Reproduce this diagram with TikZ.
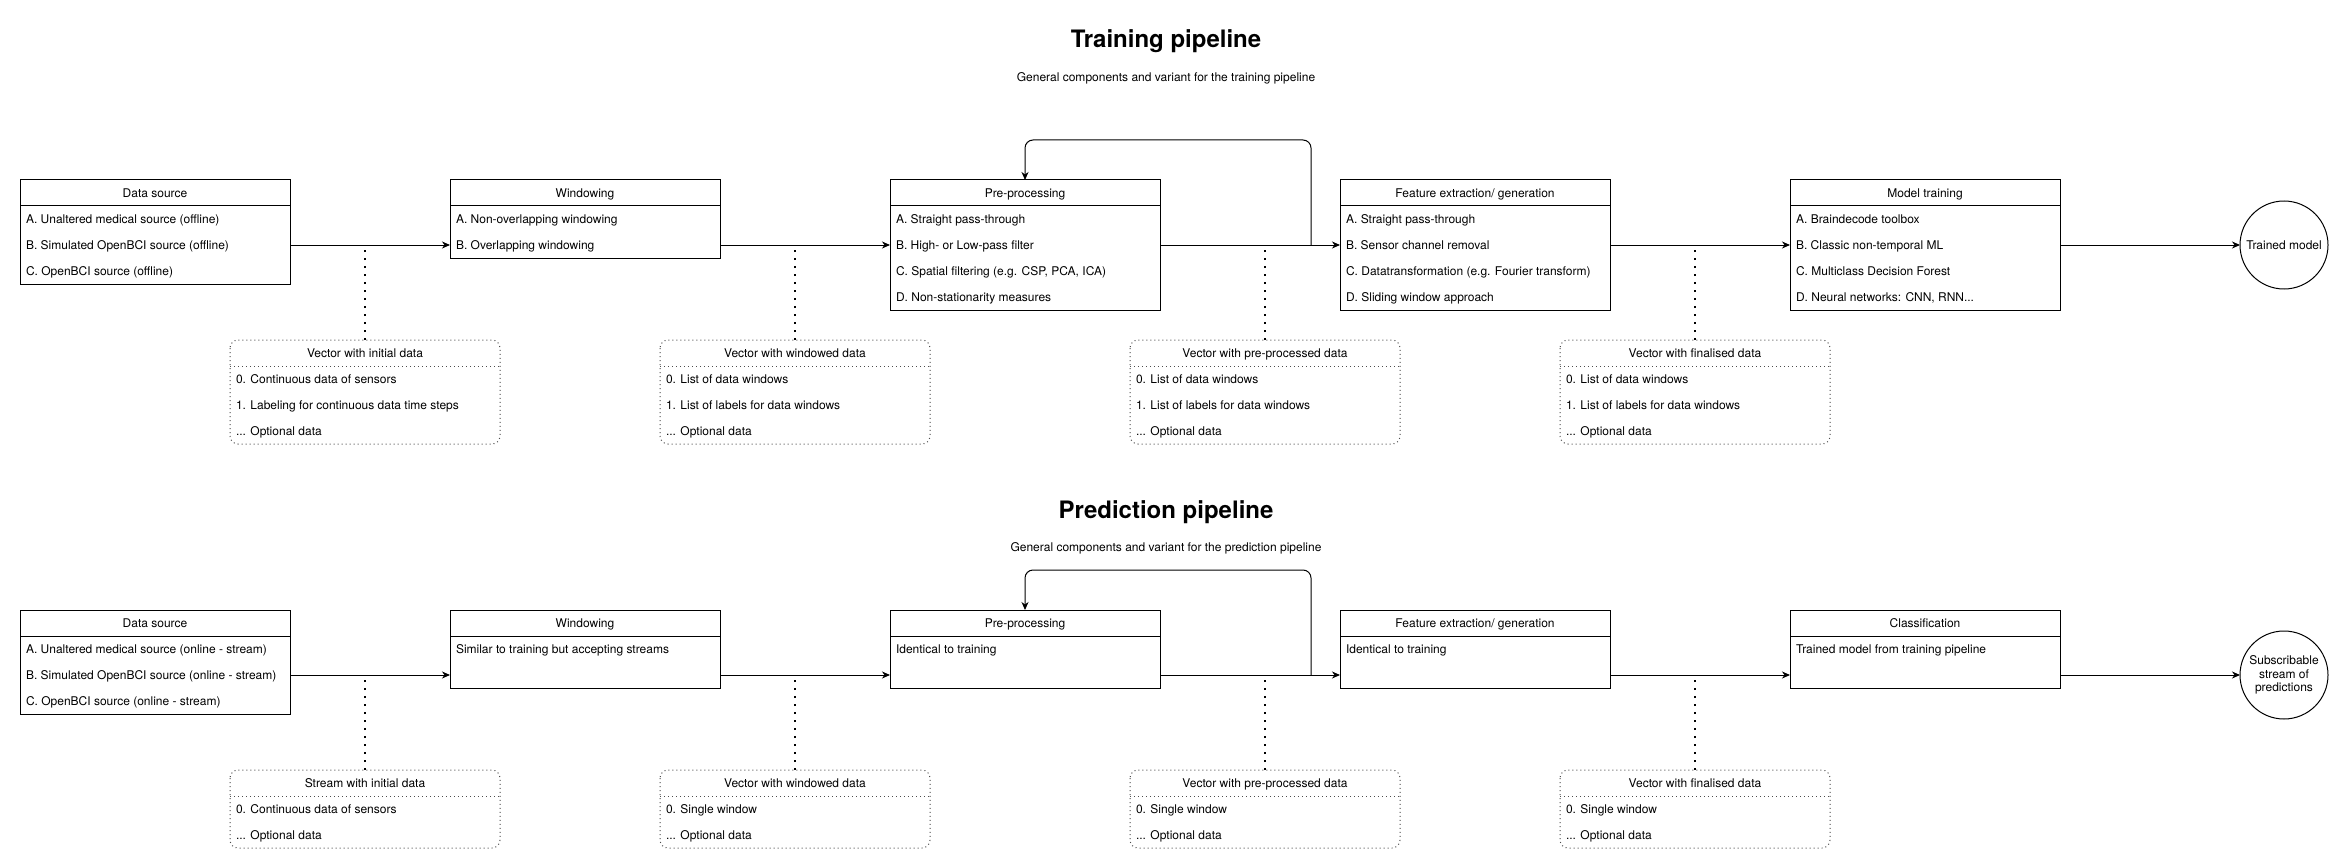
\documentclass[tikz,border=0pt]{standalone}
\usepackage{fontspec}
\setmainfont{TeX Gyre Heros}
\usetikzlibrary{arrows.meta,positioning}

\begin{document}
\begin{tikzpicture}[x=1pt,y=-1pt,line width=1pt,
  every node/.style={font=\fontsize{12}{14}\selectfont,inner sep=0pt,outer sep=0pt},
  head/.style={draw,minimum width=270pt,minimum height=26pt,text height=8.6pt,text depth=0pt},
  body/.style={draw,minimum width=270pt,minimum height=#1},
  item/.style={anchor=west,text height=8.6pt,text depth=0pt},
  vhead/.style={minimum width=270pt,minimum height=26pt,text height=8.6pt,text depth=0pt},
  vbody/.style={minimum width=270pt,minimum height=#1},
  vline/.style={draw=black!70,dash pattern=on 1pt off 3pt},
  link/.style={line width=1.6pt,dash pattern=on 1.6pt off 6.4pt},
  arr/.style={-{Stealth[length=8pt,width=7pt,inset=2.5pt]}},
  title/.style={font=\fontsize{24}{28}\bfseries\selectfont,text height=17.4pt,text depth=0pt},
  sub/.style={text height=8.6pt,text depth=0pt},
  final/.style={circle,draw,minimum size=88pt,align=center,font=\fontsize{12}{13.5}\selectfont}]
\useasboundingbox (0,0) rectangle (2337,861);

% training pipeline
\node[title] (ttitle) at (1166,39) {Training pipeline};
\node[sub] (tsub) at (1166,77) {General components and variant for the training pipeline};

\node[head] (tds) at (155,193) {Data source};
\node[body=78pt,below=0pt of tds] (tds-b) {};
\node[item] (tds-1) at ([xshift=6pt,yshift=-13pt]tds-b.north west) {A. Unaltered medical source (offline)};
\node[item] (tds-2) at ([yshift=-26pt]tds-1.west) {B. Simulated OpenBCI source (offline)};
\node[item] (tds-3) at ([yshift=-26pt]tds-2.west) {C. OpenBCI source (offline)};

\node[head] (twin) at (585,193) {Windowing};
\node[body=52pt,below=0pt of twin] (twin-b) {};
\node[item] (twin-1) at ([xshift=6pt,yshift=-13pt]twin-b.north west) {A. Non-overlapping windowing};
\node[item] (twin-2) at ([yshift=-26pt]twin-1.west) {B. Overlapping windowing};

\node[head] (tpre) at (1025,193) {Pre-processing};
\node[body=104pt,below=0pt of tpre] (tpre-b) {};
\node[item] (tpre-1) at ([xshift=6pt,yshift=-13pt]tpre-b.north west) {A. Straight pass-through};
\node[item] (tpre-2) at ([yshift=-26pt]tpre-1.west) {B. High- or Low-pass filter};
\node[item] (tpre-3) at ([yshift=-26pt]tpre-2.west) {C. Spatial filtering (e.g. CSP, PCA, ICA)};
\node[item] (tpre-4) at ([yshift=-26pt]tpre-3.west) {D. Non-stationarity measures};

\node[head] (tfeat) at (1475,193) {Feature extraction/ generation};
\node[body=104pt,below=0pt of tfeat] (tfeat-b) {};
\node[item] (tfeat-1) at ([xshift=6pt,yshift=-13pt]tfeat-b.north west) {A. Straight pass-through};
\node[item] (tfeat-2) at ([yshift=-26pt]tfeat-1.west) {B. Sensor channel removal};
\node[item] (tfeat-3) at ([yshift=-26pt]tfeat-2.west) {C. Datatransformation (e.g. Fourier transform)};
\node[item] (tfeat-4) at ([yshift=-26pt]tfeat-3.west) {D. Sliding window approach};

\node[head] (tmod) at (1925,193) {Model training};
\node[body=104pt,below=0pt of tmod] (tmod-b) {};
\node[item] (tmod-1) at ([xshift=6pt,yshift=-13pt]tmod-b.north west) {A. Braindecode toolbox};
\node[item] (tmod-2) at ([yshift=-26pt]tmod-1.west) {B. Classic non-temporal ML};
\node[item] (tmod-3) at ([yshift=-26pt]tmod-2.west) {C. Multiclass Decision Forest};
\node[item] (tmod-4) at ([yshift=-26pt]tmod-3.west) {D. Neural networks: CNN, RNN...};

\node[final] (tout) at (2284,245) {Trained model};

% training data vectors
\node[vhead] (tv1) at (365,353) {Vector with initial data};
\node[vbody=78pt,below=0pt of tv1] (tv1-b) {};
\node[item] (tv1-1) at ([xshift=6pt,yshift=-13pt]tv1-b.north west) {0. Continuous data of sensors};
\node[item] (tv1-2) at ([yshift=-26pt]tv1-1.west) {1. Labeling for continuous data time steps};
\node[item] (tv1-3) at ([yshift=-26pt]tv1-2.west) {... Optional data};

\node[vhead] (tv2) at (795,353) {Vector with windowed data};
\node[vbody=78pt,below=0pt of tv2] (tv2-b) {};
\node[item] (tv2-1) at ([xshift=6pt,yshift=-13pt]tv2-b.north west) {0. List of data windows};
\node[item] (tv2-2) at ([yshift=-26pt]tv2-1.west) {1. List of labels for data windows};
\node[item] (tv2-3) at ([yshift=-26pt]tv2-2.west) {... Optional data};

\node[vhead] (tv3) at (1265,353) {Vector with pre-processed data};
\node[vbody=78pt,below=0pt of tv3] (tv3-b) {};
\node[item] (tv3-1) at ([xshift=6pt,yshift=-13pt]tv3-b.north west) {0. List of data windows};
\node[item] (tv3-2) at ([yshift=-26pt]tv3-1.west) {1. List of labels for data windows};
\node[item] (tv3-3) at ([yshift=-26pt]tv3-2.west) {... Optional data};

\node[vhead] (tv4) at (1695,353) {Vector with finalised data};
\node[vbody=78pt,below=0pt of tv4] (tv4-b) {};
\node[item] (tv4-1) at ([xshift=6pt,yshift=-13pt]tv4-b.north west) {0. List of data windows};
\node[item] (tv4-2) at ([yshift=-26pt]tv4-1.west) {1. List of labels for data windows};
\node[item] (tv4-3) at ([yshift=-26pt]tv4-2.west) {... Optional data};

\draw[vline,rounded corners=8pt] (tv1.north west) rectangle (tv1-b.south east);
\draw[vline] (tv1.south west) -- (tv1.south east);
\draw[vline,rounded corners=8pt] (tv2.north west) rectangle (tv2-b.south east);
\draw[vline] (tv2.south west) -- (tv2.south east);
\draw[vline,rounded corners=8pt] (tv3.north west) rectangle (tv3-b.south east);
\draw[vline] (tv3.south west) -- (tv3.south east);
\draw[vline,rounded corners=8pt] (tv4.north west) rectangle (tv4-b.south east);
\draw[vline] (tv4.south west) -- (tv4.south east);

% training connectors
\draw[arr] (tds-b.east |- tds-2) -- (twin-b.west |- tds-2);
\draw[arr] (twin-b.east |- twin-2) -- (tpre-b.west |- twin-2);
\draw[arr] (tpre-b.east |- tpre-2) -- (tfeat-b.west |- tpre-2);
\draw[arr] (tfeat-b.east |- tfeat-2) -- (tmod-b.west |- tfeat-2);
\draw[arr] (tmod-b.east |- tout.west) -- (tout.west);
\coordinate (tloop) at (1311,140);
\draw[arr,rounded corners=8pt] (tloop |- tpre-2) -- (tloop) -| (tpre.north);

\coordinate (tj1) at (tv1.north |- tds-2);
\coordinate (tj2) at (tv2.north |- twin-2);
\coordinate (tj3) at (tv3.north |- tpre-2);
\coordinate (tj4) at (tv4.north |- tfeat-2);
\draw[link] (tv1.north) -- ([yshift=-4pt]tj1);
\draw[link] (tv2.north) -- ([yshift=-4pt]tj2);
\draw[link] (tv3.north) -- ([yshift=-4pt]tj3);
\draw[link] (tv4.north) -- ([yshift=-4pt]tj4);

% prediction pipeline
\node[title] (ptitle) at (1166,510) {Prediction pipeline};
\node[sub] (psub) at (1166,547) {General components and variant for the prediction pipeline};

\node[head] (pds) at (155,623) {Data source};
\node[body=78pt,below=0pt of pds] (pds-b) {};
\node[item] (pds-1) at ([xshift=6pt,yshift=-13pt]pds-b.north west) {A. Unaltered medical source (online - stream)};
\node[item] (pds-2) at ([yshift=-26pt]pds-1.west) {B. Simulated OpenBCI source (online - stream)};
\node[item] (pds-3) at ([yshift=-26pt]pds-2.west) {C. OpenBCI source (online - stream)};

\node[head] (pwin) at (585,623) {Windowing};
\node[body=52pt,below=0pt of pwin] (pwin-b) {};
\node[item] (pwin-1) at ([xshift=6pt,yshift=-13pt]pwin-b.north west) {Similar to training but accepting streams};

\node[head] (ppre) at (1025,623) {Pre-processing};
\node[body=52pt,below=0pt of ppre] (ppre-b) {};
\node[item] (ppre-1) at ([xshift=6pt,yshift=-13pt]ppre-b.north west) {Identical to training};

\node[head] (pfeat) at (1475,623) {Feature extraction/ generation};
\node[body=52pt,below=0pt of pfeat] (pfeat-b) {};
\node[item] (pfeat-1) at ([xshift=6pt,yshift=-13pt]pfeat-b.north west) {Identical to training};

\node[head] (pcls) at (1925,623) {Classification};
\node[body=52pt,below=0pt of pcls] (pcls-b) {};
\node[item] (pcls-1) at ([xshift=6pt,yshift=-13pt]pcls-b.north west) {Trained model from training pipeline};

\node[final] (pout) at (2284,675) {Subscribable\\stream of\\predictions};

% prediction data vectors
\node[vhead] (pv1) at (365,783) {Stream with initial data};
\node[vbody=52pt,below=0pt of pv1] (pv1-b) {};
\node[item] (pv1-1) at ([xshift=6pt,yshift=-13pt]pv1-b.north west) {0. Continuous data of sensors};
\node[item] (pv1-2) at ([yshift=-26pt]pv1-1.west) {... Optional data};

\node[vhead] (pv2) at (795,783) {Vector with windowed data};
\node[vbody=52pt,below=0pt of pv2] (pv2-b) {};
\node[item] (pv2-1) at ([xshift=6pt,yshift=-13pt]pv2-b.north west) {0. Single window};
\node[item] (pv2-2) at ([yshift=-26pt]pv2-1.west) {... Optional data};

\node[vhead] (pv3) at (1265,783) {Vector with pre-processed data};
\node[vbody=52pt,below=0pt of pv3] (pv3-b) {};
\node[item] (pv3-1) at ([xshift=6pt,yshift=-13pt]pv3-b.north west) {0. Single window};
\node[item] (pv3-2) at ([yshift=-26pt]pv3-1.west) {... Optional data};

\node[vhead] (pv4) at (1695,783) {Vector with finalised data};
\node[vbody=52pt,below=0pt of pv4] (pv4-b) {};
\node[item] (pv4-1) at ([xshift=6pt,yshift=-13pt]pv4-b.north west) {0. Single window};
\node[item] (pv4-2) at ([yshift=-26pt]pv4-1.west) {... Optional data};

\draw[vline,rounded corners=8pt] (pv1.north west) rectangle (pv1-b.south east);
\draw[vline] (pv1.south west) -- (pv1.south east);
\draw[vline,rounded corners=8pt] (pv2.north west) rectangle (pv2-b.south east);
\draw[vline] (pv2.south west) -- (pv2.south east);
\draw[vline,rounded corners=8pt] (pv3.north west) rectangle (pv3-b.south east);
\draw[vline] (pv3.south west) -- (pv3.south east);
\draw[vline,rounded corners=8pt] (pv4.north west) rectangle (pv4-b.south east);
\draw[vline] (pv4.south west) -- (pv4.south east);

% prediction connectors
\draw[arr] (pds-b.east |- pds-2) -- (pwin-b.west |- pds-2);
\draw[arr] (pwin-b.east |- pds-2) -- (ppre-b.west |- pds-2);
\draw[arr] (ppre-b.east |- pds-2) -- (pfeat-b.west |- pds-2);
\draw[arr] (pfeat-b.east |- pds-2) -- (pcls-b.west |- pds-2);
\draw[arr] (pcls-b.east |- pout.west) -- (pout.west);
\coordinate (ploop) at (1311,570);
\draw[arr,rounded corners=8pt] (ploop |- pds-2) -- (ploop) -| (ppre.north);

\coordinate (pj1) at (pv1.north |- pds-2);
\coordinate (pj2) at (pv2.north |- pds-2);
\coordinate (pj3) at (pv3.north |- pds-2);
\coordinate (pj4) at (pv4.north |- pds-2);
\draw[link] (pv1.north) -- ([yshift=-4pt]pj1);
\draw[link] (pv2.north) -- ([yshift=-4pt]pj2);
\draw[link] (pv3.north) -- ([yshift=-4pt]pj3);
\draw[link] (pv4.north) -- ([yshift=-4pt]pj4);
\end{tikzpicture}
\end{document}
